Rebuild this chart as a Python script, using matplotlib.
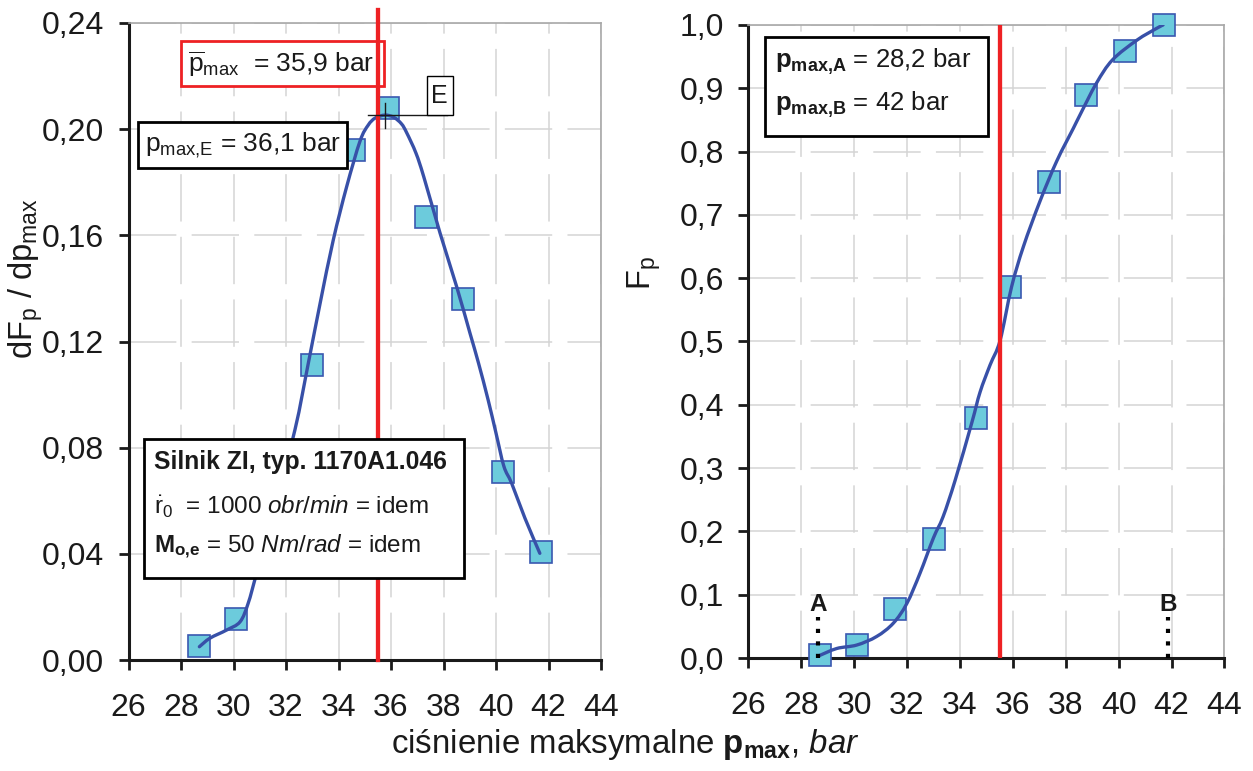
import numpy as np
import matplotlib
matplotlib.use("Agg")
import matplotlib.pyplot as plt
from matplotlib.patches import Rectangle, PathPatch
from matplotlib.path import Path
from matplotlib.ticker import FuncFormatter, MultipleLocator

plt.rcParams['font.family'] = ['Liberation Sans', 'DejaVu Sans']
plt.rcParams['mathtext.fontset'] = 'custom'
plt.rcParams['mathtext.rm'] = 'Liberation Sans'
plt.rcParams['mathtext.it'] = 'Liberation Sans:italic'
plt.rcParams['mathtext.bf'] = 'Liberation Sans:bold'

p_meas = [28.7, 30.1, 31.55, 33.0, 34.6, 35.9, 37.35, 38.75, 40.25, 41.7]
dF_meas = [0.0053, 0.0155, 0.055, 0.111, 0.192, 0.208, 0.167, 0.136, 0.0708, 0.0407]
F_meas = [0.0047, 0.0205, 0.0774, 0.188, 0.379, 0.586, 0.752, 0.889, 0.959, 1.0]

# fitted curves
dF_curve_x = [28.7, 29.1, 29.74, 30.25, 30.56, 30.88, 31.55, 32.34, 32.85, 33.3, 33.8,
              34.31, 34.82, 35.13, 35.4, 35.77, 36.1, 36.4, 36.6, 36.95, 37.25, 37.87,
              38.5, 39.01, 39.33, 39.7, 40.0, 40.3, 40.6, 41.1, 41.67]
dF_curve_y = [0.005, 0.0082, 0.0113, 0.0144, 0.0214, 0.0327, 0.057, 0.0867, 0.1118, 0.1344, 0.1582,
              0.1783, 0.1955, 0.2015, 0.2042, 0.2053, 0.2045, 0.202, 0.1986, 0.191, 0.182, 0.1608,
              0.1407, 0.1231, 0.112, 0.098, 0.0855, 0.073, 0.0665, 0.0535, 0.0402]
F_curve_x = [28.64, 29.34, 30.1, 30.85, 31.48, 31.99, 32.49, 33.0, 33.36, 33.82, 34.45, 34.76,
             35.14, 35.52, 35.95, 36.4, 37.03, 37.66, 38.29, 38.54, 39.16, 39.77, 40.69, 41.45, 41.68]
F_curve_y = [0.003, 0.015, 0.0205, 0.034, 0.055, 0.086, 0.134, 0.19, 0.223, 0.281, 0.372, 0.42,
             0.463, 0.502, 0.586, 0.65, 0.722, 0.785, 0.837, 0.858, 0.908, 0.945, 0.976, 0.995, 1.0]

p_mean = 35.5          # red line
p_E, dF_E = 35.77, 0.2053
p_A, p_B = 28.62, 41.88

W, H = 1253, 771
fig = plt.figure(figsize=(W/100, H/100), dpi=100)
ax1 = fig.add_axes([128.5/W, 1-660/H, 472.5/W, 637/H])
ax2 = fig.add_axes([748.4/W, 1-658/H, 476/W, 633/H])

line_c = '#3850a8'
mk_face = '#6ccbdc'
mk_edge = '#3a58b0'
red = '#ee2124'
ink = '#1a1a1a'


def smooth_line(ax, xs, ys, **kw):
    # Excel-like smoothed line: Catmull-Rom segments drawn as cubic Beziers
    P = np.column_stack([xs, ys])
    n = len(P)
    verts = [P[0]]
    codes = [Path.MOVETO]
    for i in range(n - 1):
        p0 = P[max(i - 1, 0)]
        p1, p2 = P[i], P[i + 1]
        p3 = P[min(i + 2, n - 1)]
        verts += [p1 + (p2 - p0) / 6, p2 - (p3 - p1) / 6, p2]
        codes += [Path.CURVE4] * 3
    ax.add_patch(PathPatch(Path(verts, codes), fill=False, **kw))


def style(ax, ystep, fmt):
    ax.set_xlim(26, 44)
    ax.xaxis.set_major_locator(MultipleLocator(2))
    ax.yaxis.set_major_locator(MultipleLocator(ystep))
    ax.yaxis.set_major_formatter(FuncFormatter(lambda v, p: fmt.format(v).replace('.', ',')))
    ax.grid(True, color='#d4d4d4', lw=1.1, linestyle=(0, (31, 10)))
    ax.set_axisbelow(True)
    for s in ['left', 'bottom']:
        ax.spines[s].set_linewidth(2.2)
        ax.spines[s].set_color(ink)
    for s in ['top', 'right']:
        ax.spines[s].set_linewidth(1.2)
        ax.spines[s].set_color('#a8a8a8')
    ax.tick_params(labelsize=23, length=7.5, width=2, color=ink, labelcolor=ink)
    ax.tick_params(axis='y', pad=10)
    ax.tick_params(axis='x', pad=16)


# left panel: density
style(ax1, 0.04, '{:.2f}')
ax1.set_ylim(0, 0.24)
ax1.plot(p_meas, dF_meas, 's', ms=15.5, mfc=mk_face, mec=mk_edge, mew=1.2, zorder=3)
smooth_line(ax1, dF_curve_x, dF_curve_y, ec=line_c, lw=2.4, capstyle='round', zorder=4)
ax1.axvline(p_mean, ymin=0, ymax=1.02, color=red, lw=3.1, zorder=5, clip_on=False)
# E cross
ax1.plot([35.12, 38.12], [dF_E, dF_E], color=ink, lw=1.0, zorder=6)
ax1.plot([p_E, p_E], [0.2005, 0.2099], color=ink, lw=1.0, zorder=6)

# right panel: cumulative
style(ax2, 0.1, '{:.1f}')
ax2.set_ylim(0, 1.0)
ax2.plot(p_meas, F_meas, 's', ms=15.5, mfc=mk_face, mec=mk_edge, mew=1.2, zorder=3, clip_on=False)
smooth_line(ax2, F_curve_x, F_curve_y, ec=line_c, lw=2.4, capstyle='round', zorder=4)
ax2.axvline(p_mean, color=red, lw=3.1, zorder=5)
for pv, lab in [(p_A, 'A'), (p_B, 'B')]:
    ax2.plot([pv, pv], [0.0, 0.065], color='black', lw=3, linestyle=(0, (1, 2)),
             dash_capstyle='butt', zorder=6)
    ax2.text(pv, 0.084, lab, fontsize=17.5, fontweight='bold', ha='center', va='center',
             color=ink, zorder=6)


def box(ax, x0, y0, x1, y1, ec='black', lw=2.0, z=7):
    r = Rectangle((x0/W, 1-y1/H), (x1-x0)/W, (y1-y0)/H, transform=fig.transFigure,
                  facecolor='white', edgecolor=ec, lw=lw, zorder=z, clip_on=False)
    ax.add_patch(r)


def ftxt(ax, x, y, s, size, z=8, **kw):
    ax.text(x/W, 1-y/H, s, transform=fig.transFigure, fontsize=size, va='center',
            color=ink, zorder=z, clip_on=False, **kw)


# red box with mean
box(ax1, 180.7, 41, 383.6, 86, ec=red, lw=2.0, z=2.5)
ftxt(ax1, 188, 64, r'$\overline{\mathrm{p}}_{\mathrm{max}}$  = 35,9 bar', 19, z=2.6)
# E value box
box(ax1, 138.4, 122, 346.8, 168)
ftxt(ax1, 145, 145, r'p$_{\mathrm{max{,}E}}$ = 36,1 bar', 19)
# E label
box(ax1, 426.7, 76, 452.7, 115, lw=1.0)
ftxt(ax1, 439.7, 96, 'E', 18, ha='center')
# engine box
box(ax1, 144, 439, 464.3, 578)
ftxt(ax1, 154, 462, 'Silnik ZI, typ. 1170A1.046', 17.8, fontweight='bold')
ftxt(ax1, 154, 507, r'$\dot{\mathrm{r}}_0$  = 1000 $\mathit{obr/min}$ = idem', 17.5)
ftxt(ax1, 154, 547, r'$\mathbf{M_{o{,}e}}$ = 50 $\mathit{Nm/rad}$ = idem', 17.5)
# A/B box
box(ax2, 765.3, 37, 988.2, 136)
ftxt(ax2, 775, 62, r'$\mathbf{p_{max{,}A}}$ = 28,2 bar', 18.5)
ftxt(ax2, 775, 105, r'$\mathbf{p_{max{,}B}}$ = 42 bar', 18.5)

# axis titles
fig.text(625/W, 1-745/H, r'ciśnienie maksymalne $\mathbf{p_{max}}$, $\mathit{bar}$',
         fontsize=23.8, ha='center', va='center', color=ink)
fig.text(26/W, 1-279/H, r'dF$_\mathrm{p}$ / dp$_\mathrm{max}$', fontsize=23.5, rotation=90,
         ha='center', va='center', color=ink)
fig.text(644/W, 1-273/H, r'F$_\mathrm{p}$', fontsize=23.5, rotation=90,
         ha='center', va='center', color=ink)

fig.savefig('out.png', dpi=100)
